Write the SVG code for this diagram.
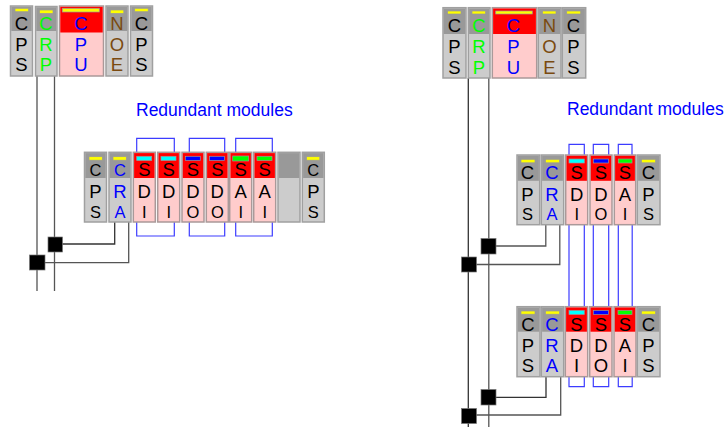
<svg xmlns="http://www.w3.org/2000/svg" width="726" height="428" viewBox="0 0 726 428">
<style>
text{font-family:"Liberation Sans",Arial,sans-serif;font-size:18.500px;text-anchor:middle;fill:#000}
.sm{font-size:16.500px}
.g{fill:#0f0}.b{fill:#00f}.n{fill:#7a4a10}
.title{font-size:17.500px;text-anchor:start;fill:#00f}
.box{fill:#ccc;stroke:#a0a0a0;stroke-width:1.5}
.rbox{fill:#fcc;stroke:#a99;stroke-width:1.5}
.hd{fill:#999}.rhd{fill:#f00}
.y{fill:#ff0;stroke:#999;stroke-width:.7}.c{fill:#0ff;stroke:#999;stroke-width:.7}.bl{fill:#00f;stroke:#999;stroke-width:.7}.gr{fill:#0f0;stroke:#999;stroke-width:.7}
.wire{fill:none;stroke:#333;stroke-width:1.3}
.bus{fill:none;stroke:#555;stroke-width:1.3}
.red{fill:none;stroke:#3c3cff;stroke-width:1.2}
.tap{fill:#000;stroke:#777;stroke-width:.7}
</style>
<g id="connectors">
<path class="bus" d="M37 76V291M54.5 76V291"/>
<path class="wire" d="M62 244H114.7V222"/>
<path class="bus" d="M45 262.7H128.7V222"/>
<path class="red" d="M136.7 152V138.3H174.3V152M189.3 152V138.3H224.7V152M235.7 152V138.3H272.3V152"/>
<path class="red" d="M136.7 222V236H174.3V222M189.3 222V236H224.7V222M235.7 222V236H272.3V222"/>
<path class="wire" d="M468.3 78V427"/>
<path class="bus" d="M488.8 78V427"/>
<path class="bus" d="M496 246H545.8V225"/>
<path class="bus" d="M476 264.5H559.8V225"/>
<path class="wire" d="M496 397.3H546V377"/>
<path class="bus" d="M476 415H560.7V377"/>
<path class="red" d="M569 155V144.3H584.3V155M593.3 155V144.3H608.7V155M618.3 155V144.3H632V155"/>
<path class="red" d="M569 225V306.5M584.3 225V306.5M593.3 225V306.5M608.7 225V306.5M618.3 225V306.5M632.2 225V306.5"/>
<path class="red" d="M569 377V386.7H584.3V377M593.3 377V386.7H608.7V377M618.3 377V386.7H632.2V377"/>
</g>
<g id="tap-left-1"><rect class="tap" x="48" y="237" width="14.5" height="15"/></g>
<g id="tap-left-2"><rect class="tap" x="29.5" y="255" width="15.5" height="15"/></g>
<g id="tap-right-1"><rect class="tap" x="481" y="238.500" width="15" height="15.500"/></g>
<g id="tap-right-2"><rect class="tap" x="461.500" y="257" width="15" height="15"/></g>
<g id="tap-right-3"><rect class="tap" x="481" y="389.500" width="15" height="15.500"/></g>
<g id="tap-right-4"><rect class="tap" x="461.500" y="408.500" width="15" height="15"/></g>

<g id="l-cps1"><rect class="box" x="10.500" y="6" width="22" height="70"/><rect class="hd" x="11.300" y="6.800" width="20.400" height="24.200"/><rect class="y" x="15" y="8.300" width="13.500" height="3.400"/><text x="21.500" y="30">C</text><text x="21.500" y="50.700">P</text><text x="21.500" y="70.700">S</text></g>
<g id="l-crp"><rect class="box" x="35.500" y="6.500" width="21.500" height="69.500"/><rect class="hd" x="36.300" y="7.300" width="19.900" height="23.700"/><rect class="y" x="39.500" y="10" width="13.500" height="3.400"/><text class="g" x="46" y="30">C</text><text class="g" x="46" y="50.700">R</text><text class="g" x="46" y="70.700">P</text></g>
<g id="l-cpu"><rect class="rbox" x="59.500" y="6" width="44" height="70"/><rect class="rhd" x="60.300" y="6.800" width="42.400" height="25.700"/><rect class="y" x="62.300" y="8.300" width="37" height="3.700"/><text class="b" x="81" y="30">C</text><text class="b" x="81" y="50.700">P</text><text class="b" x="81" y="70.700">U</text></g>
<g id="l-noe"><rect class="box" x="106" y="6" width="22" height="70"/><rect class="hd" x="106.800" y="6.800" width="20.400" height="24.200"/><rect class="y" x="110.300" y="10" width="13.500" height="3.400"/><text class="n" x="117" y="30">N</text><text class="n" x="117" y="50.700">O</text><text class="n" x="117" y="70.700">E</text></g>
<g id="l-cps2"><rect class="box" x="130.500" y="6" width="22" height="70"/><rect class="hd" x="131.300" y="6.800" width="20.400" height="24.200"/><rect class="y" x="134.700" y="8.300" width="13.500" height="3.400"/><text x="141.500" y="30">C</text><text x="141.500" y="50.700">P</text><text x="141.500" y="70.700">S</text></g>

<text class="title" x="136" y="116">Redundant modules</text>
<text class="title" x="567" y="115">Redundant modules</text>

<g id="l2-cps1"><rect class="box" x="84.500" y="152.300" width="22" height="69.700"/><rect class="hd" x="85.300" y="153.100" width="20.400" height="24.900"/><rect class="y" x="89" y="156.700" width="13.300" height="3.500"/><text class="sm" x="95.500" y="175.700">C</text><text x="95.500" y="198.300">P</text><text class="sm" x="95.500" y="217.500">S</text></g>
<g id="l2-cra"><rect class="box" x="109" y="152.300" width="22" height="69.700"/><rect class="hd" x="109.800" y="153.100" width="20.400" height="24.900"/><rect class="y" x="113" y="156.700" width="13.300" height="3.500"/><text class="sm b" x="120" y="175.700">C</text><text class="b" x="120" y="198.300">R</text><text class="sm b" x="120" y="217.500">A</text></g>
<g id="l2-di1"><rect class="rbox" x="133.300" y="152.300" width="22" height="69.700"/><rect class="rhd" x="134.100" y="153.100" width="20.400" height="24.900"/><rect class="c" x="136.700" y="156.300" width="15" height="4.200"/><text x="144.300" y="175.700">S</text><text x="144.300" y="198.300">D</text><text class="sm" x="144.300" y="217.500">I</text></g>
<g id="l2-di2"><rect class="rbox" x="157.700" y="152.300" width="22" height="69.700"/><rect class="rhd" x="158.500" y="153.100" width="20.400" height="24.900"/><rect class="c" x="161" y="156.300" width="15" height="4.200"/><text x="168.700" y="175.700">S</text><text x="168.700" y="198.300">D</text><text class="sm" x="168.700" y="217.500">I</text></g>
<g id="l2-do1"><rect class="rbox" x="182" y="152.300" width="22" height="69.700"/><rect class="rhd" x="182.800" y="153.100" width="20.400" height="24.900"/><rect class="bl" x="185.300" y="156.300" width="15" height="4.200"/><text x="193" y="175.700">S</text><text x="193" y="198.300">D</text><text class="sm" x="193" y="217.500">O</text></g>
<g id="l2-do2"><rect class="rbox" x="206.300" y="152.300" width="22" height="69.700"/><rect class="rhd" x="207.100" y="153.100" width="20.400" height="24.900"/><rect class="bl" x="209.500" y="156.300" width="15" height="4.200"/><text x="217.300" y="175.700">S</text><text x="217.300" y="198.300">D</text><text class="sm" x="217.300" y="217.500">O</text></g>
<g id="l2-ai1"><rect class="rbox" x="229.700" y="152.300" width="22" height="69.700"/><rect class="rhd" x="230.500" y="153.100" width="20.400" height="24.900"/><rect class="gr" x="232.700" y="156" width="16" height="5"/><text x="240.700" y="175.700">S</text><text x="240.700" y="198.300">A</text><text class="sm" x="240.700" y="217.500">I</text></g>
<g id="l2-ai2"><rect class="rbox" x="253.700" y="152.300" width="22" height="69.700"/><rect class="rhd" x="254.500" y="153.100" width="20.400" height="24.900"/><rect class="gr" x="257" y="156.300" width="15" height="4.200"/><text x="264.700" y="175.700">S</text><text x="264.700" y="198.300">A</text><text class="sm" x="264.700" y="217.500">I</text></g>
<g id="l2-empty"><rect class="box" x="278" y="152.300" width="22" height="69.700"/><rect class="hd" x="278.800" y="153.100" width="20.400" height="24.900"/></g>
<g id="l2-cps2"><rect class="box" x="302.300" y="152.300" width="22" height="69.700"/><rect class="hd" x="303.100" y="153.100" width="20.400" height="24.900"/><rect class="y" x="306.500" y="156.700" width="13.300" height="3.500"/><text class="sm" x="313.300" y="175.700">C</text><text x="313.300" y="198.300">P</text><text class="sm" x="313.300" y="217.500">S</text></g>

<g id="r-cps1"><rect class="box" x="443" y="7.700" width="23" height="70.300"/><rect class="hd" x="443.800" y="8.500" width="21.400" height="25.500"/><rect class="y" x="447.500" y="11" width="13.500" height="3"/><text x="454.500" y="31.500">C</text><text x="454.500" y="53">P</text><text x="454.500" y="73.500">S</text></g>
<g id="r-crp"><rect class="box" x="468.300" y="7.700" width="21.700" height="70.300"/><rect class="hd" x="469.100" y="8.500" width="20.100" height="25.500"/><rect class="y" x="472" y="11" width="13.500" height="3"/><text class="g" x="479" y="31.500">C</text><text class="g" x="479" y="53">R</text><text class="g" x="479" y="73.500">P</text></g>
<g id="r-cpu"><rect class="rbox" x="492.300" y="7.700" width="44.400" height="70.300"/><rect class="rhd" x="493.100" y="8.500" width="42.800" height="25.500"/><rect class="y" x="495.700" y="11" width="36.600" height="3"/><text class="b" x="513.500" y="31.500">C</text><text class="b" x="513.500" y="53">P</text><text class="b" x="513.500" y="73.500">U</text></g>
<g id="r-noe"><rect class="box" x="538.300" y="7.700" width="22.700" height="70.300"/><rect class="hd" x="539.100" y="8.500" width="21.100" height="25.500"/><rect class="y" x="542.500" y="11" width="13.500" height="3"/><text class="n" x="549.500" y="31.500">N</text><text class="n" x="549.500" y="53">O</text><text class="n" x="549.500" y="73.500">E</text></g>
<g id="r-cps2"><rect class="box" x="562.300" y="7.700" width="23.400" height="70.300"/><rect class="hd" x="563.100" y="8.500" width="21.800" height="25.500"/><rect class="y" x="566.700" y="11" width="14" height="3"/><text x="573.500" y="31.500">C</text><text x="573.500" y="53">P</text><text x="573.500" y="73.500">S</text></g>

<g id="r2-cps1"><rect class="box" x="517" y="155" width="22.700" height="69.700"/><rect class="hd" x="517.800" y="155.800" width="21.100" height="25"/><rect class="y" x="521" y="159.300" width="14" height="3.500"/><text x="527.500" y="179">C</text><text x="527.500" y="200.500">P</text><text class="sm" x="527.500" y="220">S</text></g>
<g id="r2-cra"><rect class="box" x="541.300" y="155" width="22.400" height="69.700"/><rect class="hd" x="542.100" y="155.800" width="20.800" height="25"/><rect class="y" x="545.500" y="159.300" width="14" height="3.500"/><text class="b" x="552" y="179">C</text><text class="b" x="552" y="200.500">R</text><text class="sm b" x="552" y="220">A</text></g>
<g id="r2-di"><rect class="rbox" x="565.700" y="155" width="22" height="69.700"/><rect class="rhd" x="566.500" y="155.800" width="20.400" height="25"/><rect class="c" x="569" y="159" width="15.300" height="4"/><text x="576.700" y="179">S</text><text x="576.700" y="200.500">D</text><text class="sm" x="576.700" y="220">I</text></g>
<g id="r2-do"><rect class="rbox" x="590" y="155" width="22" height="69.700"/><rect class="rhd" x="590.800" y="155.800" width="20.400" height="25"/><rect class="bl" x="593.300" y="159" width="15.300" height="4"/><text x="601" y="179">S</text><text x="601" y="200.500">D</text><text class="sm" x="601" y="220">O</text></g>
<g id="r2-ai"><rect class="rbox" x="614.300" y="155" width="21.400" height="69.700"/><rect class="rhd" x="615.100" y="155.800" width="19.800" height="25"/><rect class="gr" x="618.300" y="159" width="13.700" height="4"/><text x="625" y="179">S</text><text x="625" y="200.500">A</text><text class="sm" x="625" y="220">I</text></g>
<g id="r2-cps2"><rect class="box" x="637.300" y="155" width="22.700" height="69.700"/><rect class="hd" x="638.100" y="155.800" width="21.100" height="25"/><rect class="y" x="641.500" y="159.300" width="14" height="3.500"/><text x="648.500" y="179">C</text><text x="648.500" y="200.500">P</text><text class="sm" x="648.500" y="220">S</text></g>

<g id="r3-cps1"><rect class="box" x="517" y="306.700" width="23" height="70"/><rect class="hd" x="517.800" y="307.500" width="21.400" height="24.200"/><rect class="y" x="521" y="311" width="14" height="3.200"/><text x="528" y="330.500">C</text><text x="528" y="352">P</text><text x="528" y="372">S</text></g>
<g id="r3-cra"><rect class="box" x="541.300" y="306.700" width="22.400" height="70"/><rect class="hd" x="542.100" y="307.500" width="20.800" height="24.200"/><rect class="y" x="545.500" y="311" width="14" height="3.200"/><text class="b" x="552" y="330.500">C</text><text class="b" x="552" y="352">R</text><text class="b" x="552" y="372">A</text></g>
<g id="r3-di"><rect class="rbox" x="565.300" y="306.700" width="22.400" height="70"/><rect class="rhd" x="566.100" y="307.500" width="20.800" height="24.200"/><rect class="c" x="569" y="310.500" width="15.300" height="4"/><text x="576.500" y="330.500">S</text><text x="576.500" y="352">D</text><text x="576.500" y="372">I</text></g>
<g id="r3-do"><rect class="rbox" x="589.700" y="306.700" width="22.300" height="70"/><rect class="rhd" x="590.500" y="307.500" width="20.700" height="24.200"/><rect class="bl" x="593.300" y="310.500" width="15.300" height="4"/><text x="601" y="330.500">S</text><text x="601" y="352">D</text><text x="601" y="372">O</text></g>
<g id="r3-ai"><rect class="rbox" x="614" y="306.700" width="22" height="70"/><rect class="rhd" x="614.800" y="307.500" width="20.400" height="24.200"/><rect class="gr" x="618" y="310.500" width="14" height="4"/><text x="625" y="330.500">S</text><text x="625" y="352">A</text><text x="625" y="372">I</text></g>
<g id="r3-cps2"><rect class="box" x="637.300" y="306.700" width="22.700" height="70"/><rect class="hd" x="638.100" y="307.500" width="21.100" height="24.200"/><rect class="y" x="641.500" y="311" width="14" height="3.200"/><text x="648.500" y="330.500">C</text><text x="648.500" y="352">P</text><text x="648.500" y="372">S</text></g>
</svg>
